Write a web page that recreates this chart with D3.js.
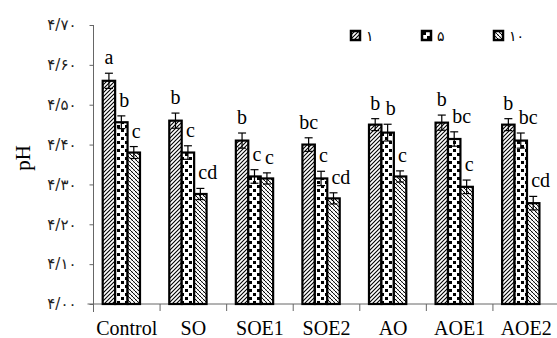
<!DOCTYPE html>
<html>
<head>
<meta charset="utf-8">
<script src="https://cdn.jsdelivr.net/npm/d3@7"></script>
<style>
  html, body { margin: 0; padding: 0; background: #fff; }
  svg { display: block; }
</style>
</head>
<body>
<svg id="chart" width="557" height="338"></svg>
<script>
// ---- data ----
const categories = ["Control", "SO", "SOE1", "SOE2", "AO", "AOE1", "AOE2"];
const seriesNames = ["۱", "۵", "۱۰"];
const values1  = [4.56, 4.46, 4.41, 4.40, 4.45, 4.455, 4.45];
const values5  = [4.456, 4.38, 4.32, 4.315, 4.43, 4.414, 4.41];
const values10 = [4.38, 4.276, 4.315, 4.265, 4.32, 4.294, 4.253];
const errors1  = [0.019, 0.019, 0.019, 0.017, 0.015, 0.019, 0.015];
const errors5  = [0.016, 0.017, 0.017, 0.018, 0.021, 0.018, 0.019];
const errors10 = [0.015, 0.014, 0.014, 0.014, 0.014, 0.017, 0.017];
const letters1  = ["a", "b", "b", "bc", "b", "b", "b"];
const letters5  = ["b", "c", "c", "c", "b", "bc", "bc"];
const letters10 = ["c", "cd", "c", "cd", "c", "c", "cd"];
const yTickValues = [4.0, 4.1, 4.2, 4.3, 4.4, 4.5, 4.6, 4.7];
const yTickLabels = ["۴/۰۰", "۴/۱۰", "۴/۲۰", "۴/۳۰", "۴/۴۰", "۴/۵۰", "۴/۶۰", "۴/۷۰"];
const yAxisTitle = "pH";

const series = [
  { name: seriesNames[0], values: values1, errors: errors1, letters: letters1, pat: "p1" },
  { name: seriesNames[1], values: values5, errors: errors5, letters: letters5, pat: "p2" },
  { name: seriesNames[2], values: values10, errors: errors10, letters: letters10, pat: "p3" }
];

// ---- layout ----
const svg = d3.select("#chart");
const plotLeft = 93.5, plotRight = 559.5, plotTop = 25, plotBottom = 304;
const groupOffset = 9.2, groupWidth = 37.3;

const x = d3.scaleBand().domain(categories).range([plotLeft, plotRight]).padding(0);
const x1 = d3.scaleBand().domain(d3.range(series.length)).range([0, groupWidth]).padding(0);
const y = d3.scaleLinear().domain([4.0, 4.7]).range([plotBottom, plotTop]);

// ---- patterns ----
const defs = svg.append("defs");
const p1 = defs.append("pattern").attr("id", "p1").attr("patternUnits", "userSpaceOnUse")
  .attr("width", 4).attr("height", 4);
p1.append("rect").attr("width", 4).attr("height", 4).attr("fill", "#fff");
p1.append("path").attr("d", "M-1,1 l2,-2 M0,4 l4,-4 M3,5 l2,-2")
  .attr("stroke", "#000").attr("stroke-width", 1.1);

const p2 = defs.append("pattern").attr("id", "p2").attr("patternUnits", "userSpaceOnUse")
  .attr("width", 8).attr("height", 8);
p2.append("rect").attr("width", 8).attr("height", 8).attr("fill", "#fff");
p2.append("rect").attr("x", 1).attr("y", 1).attr("width", 3).attr("height", 3).attr("fill", "#000");
p2.append("rect").attr("x", 5).attr("y", 5).attr("width", 3).attr("height", 3).attr("fill", "#000");

const p3 = defs.append("pattern").attr("id", "p3").attr("patternUnits", "userSpaceOnUse")
  .attr("width", 4).attr("height", 4);
p3.append("rect").attr("width", 4).attr("height", 4).attr("fill", "#fff");
p3.append("path").attr("d", "M-1,-1 l2,2 M0,0 l4,4 M3,3 l2,2")
  .attr("stroke", "#000").attr("stroke-width", 0.9);
p3.append("path").attr("d", "M-1,1 l2,-2 M0,4 l4,-4 M3,5 l2,-2")
  .attr("stroke", "#aaa").attr("stroke-width", 0.6);

// ---- axes ----
const axisColor = "#666";
// y axis
const yAxis = d3.axisLeft(y).tickValues(yTickValues)
  .tickFormat((d, i) => yTickLabels[i]).tickSize(4).tickPadding(13);
const gy = svg.append("g").attr("transform", `translate(${plotLeft},0)`).call(yAxis);
gy.select(".domain").attr("stroke", axisColor).attr("d", `M0,${plotTop}V${plotBottom + 8}`);
gy.selectAll(".tick line").attr("stroke", axisColor);
gy.selectAll(".tick text").attr("font-family", "'DejaVu Sans', 'Noto Sans', sans-serif")
  .attr("font-size", 15).attr("fill", "#222");

// x axis
const xAxis = d3.axisBottom(x).tickSize(0).tickPadding(17);
const gx = svg.append("g").attr("transform", `translate(0,${plotBottom})`).call(xAxis);
gx.select(".domain").attr("stroke", axisColor).attr("d", `M${plotLeft - 6},0H${plotRight}`);
gx.selectAll(".tick text").attr("font-family", "'Liberation Serif', 'Times New Roman', serif")
  .attr("font-size", 20).attr("fill", "#000");
// category boundary ticks
gx.selectAll(".bound").data(categories).enter().append("line")
  .attr("x1", d => x(d)).attr("x2", d => x(d))
  .attr("y1", 0).attr("y2", 7).attr("stroke", axisColor);

// y title
svg.append("text")
  .attr("transform", `translate(30,158) rotate(-90)`)
  .attr("text-anchor", "middle")
  .attr("font-family", "'Liberation Serif', 'Times New Roman', serif")
  .attr("font-size", 21).text(yAxisTitle);

// ---- bars ----
const groups = svg.append("g").selectAll("g").data(series).enter().append("g");
groups.each(function(s, si) {
  const g = d3.select(this);
  const bx = c => x(c) + groupOffset + x1(si);
  const bw = x1.bandwidth();
  g.selectAll("rect").data(categories).enter().append("rect")
    .attr("x", c => bx(c))
    .attr("y", (c, i) => y(s.values[i]))
    .attr("width", bw)
    .attr("height", (c, i) => y(4.0) - y(s.values[i]))
    .attr("fill", `url(#${s.pat})`)
    .attr("stroke", "#000").attr("stroke-width", 2.2);
  // error bars
  const eb = g.selectAll("g.err").data(categories).enter().append("g").attr("class", "err");
  eb.append("line")
    .attr("x1", c => bx(c) + bw / 2).attr("x2", c => bx(c) + bw / 2)
    .attr("y1", (c, i) => y(s.values[i] - s.errors[i]))
    .attr("y2", (c, i) => y(s.values[i] + s.errors[i]))
    .attr("stroke", "#000").attr("stroke-width", 1.2);
  eb.append("line")
    .attr("x1", c => bx(c) + bw / 2 - 4).attr("x2", c => bx(c) + bw / 2 + 4)
    .attr("y1", (c, i) => y(s.values[i] + s.errors[i]))
    .attr("y2", (c, i) => y(s.values[i] + s.errors[i]))
    .attr("stroke", "#000").attr("stroke-width", 1.2);
  eb.append("line")
    .attr("x1", c => bx(c) + bw / 2 - 4).attr("x2", c => bx(c) + bw / 2 + 4)
    .attr("y1", (c, i) => y(s.values[i] - s.errors[i]))
    .attr("y2", (c, i) => y(s.values[i] - s.errors[i]))
    .attr("stroke", "#000").attr("stroke-width", 1.2);
  // significance letters
  g.selectAll("text").data(categories).enter().append("text")
    .attr("x", c => si === 0 ? bx(c) + bw / 2 : bx(c) + bw / 2 - 2)
    .attr("y", (c, i) => y(s.values[i] + s.errors[i]) - 9)
    .attr("text-anchor", si === 0 ? "middle" : "start")
    .attr("font-family", "'Liberation Serif', 'Times New Roman', serif")
    .attr("font-size", 20)
    .text((c, i) => s.letters[i]);
});

// ---- legend ----
const legendX = [351, 422, 494];
const legend = svg.append("g").selectAll("g").data(series).enter().append("g")
  .attr("transform", (d, i) => `translate(${legendX[i]},31)`);
legend.append("rect").attr("width", 9).attr("height", 9)
  .attr("fill", d => `url(#${d.pat})`).attr("stroke", "#000").attr("stroke-width", 2.5);
legend.append("text").attr("x", 15).attr("y", 10)
  .attr("font-family", "'DejaVu Sans', 'Noto Sans', sans-serif")
  .attr("font-size", 14).text(d => d.name);
</script>
</body>
</html>
